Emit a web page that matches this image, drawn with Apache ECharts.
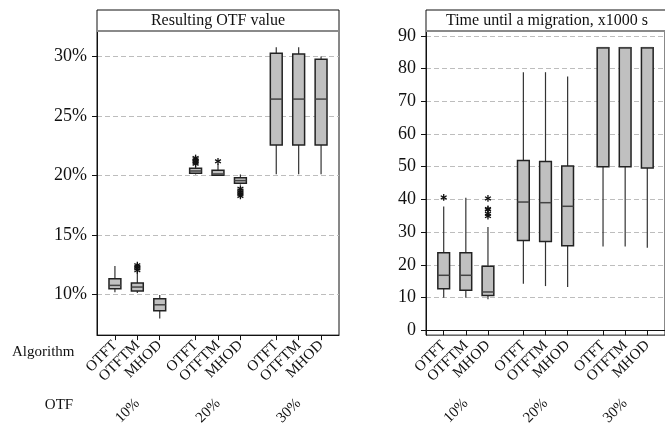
<!DOCTYPE html>
<html>
<head>
<meta charset="utf-8">
<script src="https://cdn.jsdelivr.net/npm/echarts@6/dist/echarts.min.js"></script>
<style>
  html, body { margin: 0; padding: 0; background: #fff; }
  #chart { width: 665px; height: 428px; }
</style>
</head>
<body>
<div id="chart"></div>
<script>
// categories
const algorithms = ['OTFT', 'OTFTM', 'MHOD', 'OTFT', 'OTFTM', 'MHOD', 'OTFT', 'OTFTM', 'MHOD']
const otfGroups = ['10%', '20%', '30%']
// x slot of each box (three groups of three, wider gap between groups)
const boxSlots = [1, 2, 3, 4.6, 5.6, 6.6, 8.2, 9.2, 10.2]
const groupSlots = [2, 5.6, 9.2]

// [min, Q1, median, Q3, max]
const otfBoxes = [
  [10.2, 10.5, 10.78, 11.34, 12.4],
  [10.13, 10.3, 10.64, 10.97, 11.9],
  [7.99, 8.64, 9.15, 9.66, 9.97],
  [20.1, 20.2, 20.39, 20.62, 20.8],
  [20.0, 20.04, 20.14, 20.45, 20.98],
  [19.25, 19.35, 19.58, 19.82, 20.1],
  [20.11, 22.58, 26.43, 30.28, 30.79],
  [20.11, 22.58, 26.43, 30.22, 30.79],
  [20.11, 22.58, 26.43, 29.78, 30.0]
]
// [box index, value]
const otfOutliers = [
  [1, 12.05], [1, 12.2], [1, 12.35], [1, 12.48],
  [3, 21.0], [3, 21.12], [3, 21.25], [3, 21.38], [3, 21.48],
  [4, 21.2],
  [5, 18.9], [5, 18.75], [5, 18.6], [5, 18.45], [5, 18.3]
]

const timeBoxes = [
  [9.9, 12.7, 16.8, 23.7, 37.8],
  [9.9, 12.2, 16.8, 23.7, 40.5],
  [9.5, 10.6, 11.7, 19.6, 31.6],
  [14.2, 27.4, 39.2, 51.9, 78.9],
  [13.5, 27.1, 39.0, 51.6, 78.9],
  [13.2, 25.8, 37.9, 50.2, 77.6],
  [25.6, 50.0, 86.4, 86.4, 86.4],
  [25.6, 50.0, 86.4, 86.4, 86.4],
  [25.2, 49.6, 86.4, 86.4, 86.4]
]
const timeOutliers = [
  [0, 40.6],
  [2, 40.3], [2, 37.1], [2, 36.9], [2, 35.6], [2, 34.9]
]

const otfTicks = [10, 15, 20, 25, 30]
const timeTicks = [0, 10, 20, 30, 40, 50, 60, 70, 80, 90]

const serif = 'Liberation Serif, Times New Roman, serif'

function renderBox(params, api) {
  const x = api.value(0)
  const lo = api.coord([x, api.value(1)])
  const q1 = api.coord([x, api.value(2)])
  const md = api.coord([x, api.value(3)])
  const q3 = api.coord([x, api.value(4)])
  const hi = api.coord([x, api.value(5)])
  const w = api.size([0.53, 0])[0]
  const whisker = { stroke: '#333', lineWidth: 1.2 }
  return {
    type: 'group',
    children: [
      { type: 'line', shape: { x1: lo[0], y1: lo[1], x2: q1[0], y2: q1[1] }, style: whisker },
      { type: 'line', shape: { x1: q3[0], y1: q3[1], x2: hi[0], y2: hi[1] }, style: whisker },
      {
        type: 'rect',
        shape: { x: q3[0] - w / 2, y: q3[1], width: w, height: q1[1] - q3[1] },
        style: { fill: '#c0c0c0', stroke: '#222', lineWidth: 1.5 }
      },
      {
        type: 'line',
        shape: { x1: md[0] - w / 2, y1: md[1], x2: md[0] + w / 2, y2: md[1] },
        style: { stroke: '#444', lineWidth: 1.5 }
      }
    ]
  }
}

function renderStar(params, api) {
  const p = api.coord([api.value(0), api.value(1)])
  const r = 3.4
  const dx = r * Math.cos(Math.PI / 6)
  const dy = r * Math.sin(Math.PI / 6)
  const st = { stroke: '#111', lineWidth: 1.3 }
  return {
    type: 'group',
    children: [
      { type: 'line', shape: { x1: p[0], y1: p[1] - r, x2: p[0], y2: p[1] + r }, style: st },
      { type: 'line', shape: { x1: p[0] - dx, y1: p[1] - dy, x2: p[0] + dx, y2: p[1] + dy }, style: st },
      { type: 'line', shape: { x1: p[0] - dx, y1: p[1] + dy, x2: p[0] + dx, y2: p[1] - dy }, style: st }
    ]
  }
}

function slotName(list, slots) {
  return v => {
    const i = slots.findIndex(s => Math.abs(s - v) < 0.01)
    return i < 0 ? '' : list[i]
  }
}

function xAxes(gridIndex) {
  return [
    {
      type: 'value',
      gridIndex,
      min: 0.2,
      max: 11,
      axisLine: { show: true, lineStyle: { color: '#111', width: 1 } },
      axisTick: { show: true, length: 5, customValues: boxSlots, lineStyle: { color: '#111' } },
      axisLabel: {
        customValues: boxSlots,
        rotate: 45,
        margin: 8,
        fontFamily: serif,
        fontSize: 15,
        color: '#111',
        formatter: slotName(algorithms, boxSlots)
      },
      splitLine: { show: false }
    },
    {
      type: 'value',
      gridIndex,
      position: 'bottom',
      offset: 58,
      min: 0.2,
      max: 11,
      axisLine: { show: false },
      axisTick: { show: false, customValues: groupSlots },
      axisLabel: {
        customValues: groupSlots,
        rotate: 45,
        margin: 8,
        fontFamily: serif,
        fontSize: 15,
        color: '#111',
        formatter: slotName(otfGroups, groupSlots)
      },
      splitLine: { show: false }
    }
  ]
}

function yAxis(gridIndex, min, max, ticks, fmt) {
  return {
    type: 'value',
    gridIndex,
    min,
    max,
    axisLine: { show: true, lineStyle: { color: '#111' } },
    axisTick: { show: true, length: 5, customValues: ticks, lineStyle: { color: '#111' } },
    axisLabel: {
      customValues: ticks,
      margin: 10,
      fontFamily: serif,
      fontSize: 18,
      color: '#111',
      formatter: fmt
    },
    splitLine: { show: true, lineStyle: { color: '#bdbdbd', type: [5, 3], width: 1 } }
  }
}

function strip(left, text) {
  return [
    {
      type: 'rect',
      shape: { x: left, y: 10, width: 242, height: 21 },
      style: { fill: '#fff', stroke: '#111', lineWidth: 1 },
      z: 100
    },
    {
      type: 'line',
      shape: { x1: left, y1: 31, x2: left + 242, y2: 31 },
      style: { stroke: '#8a8a8a', lineWidth: 2 },
      z: 101
    },
    {
      type: 'text',
      x: left + 121,
      y: 20.5,
      style: { text, fontFamily: serif, fontSize: 16, fill: '#111', align: 'center', verticalAlign: 'middle' },
      z: 102
    }
  ]
}

const chart = echarts.init(document.getElementById('chart'))
chart.setOption({
  animation: false,
  grid: [
    { left: 97, top: 31, width: 242, height: 305, show: true, borderColor: '#111', borderWidth: 1 },
    { left: 426, top: 31, width: 242, height: 305, show: true, borderColor: '#111', borderWidth: 1 }
  ],
  xAxis: [...xAxes(0), ...xAxes(1)],
  yAxis: [
    yAxis(0, 6.6, 32.15, otfTicks, v => v + '%'),
    yAxis(1, -1.5, 91.5, timeTicks, v => String(v))
  ],
  graphic: [
    ...strip(97, 'Resulting OTF value'),
    ...strip(426, 'Time until a migration, x1000 s'),
    {
      type: 'text', x: 12, y: 352,
      style: { text: 'Algorithm', fontFamily: serif, fontSize: 15, fill: '#111', verticalAlign: 'middle' }
    },
    {
      type: 'text', x: 59, y: 405,
      style: { text: 'OTF', fontFamily: serif, fontSize: 15, fill: '#111', align: 'center', verticalAlign: 'middle' }
    }
  ],
  series: [
    {
      type: 'custom', xAxisIndex: 0, yAxisIndex: 0,
      renderItem: renderBox,
      encode: { x: 0, y: [1, 2, 3, 4, 5] },
      data: otfBoxes.map((b, i) => [boxSlots[i], ...b])
    },
    {
      type: 'custom', xAxisIndex: 0, yAxisIndex: 0,
      renderItem: renderStar,
      encode: { x: 0, y: 1 },
      data: otfOutliers.map(o => [boxSlots[o[0]], o[1]])
    },
    {
      type: 'custom', xAxisIndex: 2, yAxisIndex: 1,
      renderItem: renderBox,
      encode: { x: 0, y: [1, 2, 3, 4, 5] },
      data: timeBoxes.map((b, i) => [boxSlots[i], ...b])
    },
    {
      type: 'custom', xAxisIndex: 2, yAxisIndex: 1,
      renderItem: renderStar,
      encode: { x: 0, y: 1 },
      data: timeOutliers.map(o => [boxSlots[o[0]], o[1]])
    }
  ]
})
</script>
</body>
</html>
